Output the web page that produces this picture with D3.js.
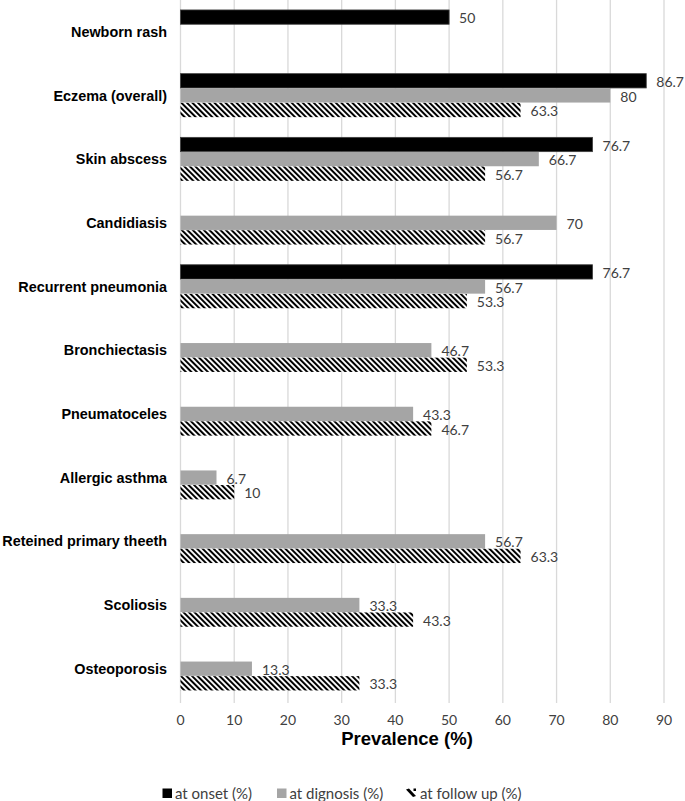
<!DOCTYPE html>
<html><head><meta charset="utf-8">
<script src="https://cdn.jsdelivr.net/npm/d3@7"></script>
<style>body{margin:0;background:#fff}svg{display:block}</style>
</head><body>
<svg id="c" width="685" height="801"></svg>
<script>
const categories = ["Newborn rash","Eczema (overall)","Skin abscess","Candidiasis","Recurrent pneumonia","Bronchiectasis","Pneumatoceles","Allergic asthma","Reteined primary theeth","Scoliosis","Osteoporosis"];
const seriesNames = ["at onset (%)","at dignosis (%)","at follow up (%)"];
const onset    = [50, 86.7, 76.7, null, 76.7, null, null, null, null, null, null];
const diagnosis= [null, 80, 66.7, 70, 56.7, 46.7, 43.3, 6.7, 56.7, 33.3, 13.3];
const followUp = [null, 63.3, 56.7, 56.7, 53.3, 53.3, 46.7, 10, 63.3, 43.3, 33.3];
const xTicks = [0,10,20,30,40,50,60,70,80,90];
const seriesValues = [onset, diagnosis, followUp];

const svg = d3.select("#c");
const defs = svg.append("defs");
const pat = defs.append("pattern").attr("id","hatch").attr("patternUnits","userSpaceOnUse")
  .attr("width",3.9).attr("height",3.9).attr("patternTransform","rotate(-45)");
pat.append("rect").attr("width",3.9).attr("height",3.9).attr("fill","#fff");
pat.append("rect").attr("width",2.0).attr("height",3.9).attr("fill","#000");

const x = d3.scaleLinear().domain([0,90]).range([180.5,664]);
const y = d3.scaleBand().domain(categories).range([0,700.7]).paddingInner(0.3125).paddingOuter(0.15625);
const ys = d3.scaleBand().domain(seriesNames).range([0,y.bandwidth()]);
const fills = ["#000000","#a5a5a5","url(#hatch)"];

// gridlines
svg.append("g").selectAll("line").data(xTicks).join("line")
  .attr("x1",d=>x(d)).attr("x2",d=>x(d)).attr("y1",0).attr("y2",703)
  .attr("stroke","#d9d9d9").attr("stroke-width",1.3);

// tick labels
svg.append("g").selectAll("text").data(xTicks).join("text")
  .attr("x",d=>x(d)).attr("y",719).attr("text-anchor","middle").attr("dominant-baseline","central")
  .attr("font-family","Lato, sans-serif").attr("font-size",14).attr("fill","#404040").text(d=>d);

// axis title
svg.append("text").attr("x",407).attr("y",745).attr("text-anchor","middle")
  .attr("font-family","Liberation Sans, Arial, sans-serif").attr("font-weight","bold").attr("font-size",18.5)
  .attr("fill","#000").text("Prevalence (%)");

// category labels
svg.append("g").selectAll("text").data(categories).join("text")
  .attr("x",167).attr("y",d=>y(d)+y.bandwidth()/2).attr("text-anchor","end").attr("dominant-baseline","central")
  .attr("font-family","Liberation Sans, Arial, sans-serif").attr("font-weight","bold").attr("font-size",14.4)
  .attr("fill","#000").text(d=>d);

// bars
seriesNames.forEach((s,si)=>{
  const data = categories.map((c,i)=>({c, v: seriesValues[si][i]})).filter(d=>d.v!=null);
  const g = svg.append("g");
  g.selectAll("rect").data(data).join("rect")
    .attr("x",x(0)).attr("y",d=>y(d.c)+ys(s)).attr("width",d=>x(d.v)-x(0)).attr("height",ys.bandwidth()-0.3)
    .attr("fill",fills[si])
    .attr("stroke", si===0 ? "#404040" : "none").attr("stroke-width",0.8);
  g.selectAll("text").data(data).join("text")
    .attr("x",d=>x(d.v)+10).attr("y",d=>y(d.c)+ys(s)+ys.bandwidth()/2+0.5).attr("dominant-baseline","central")
    .attr("font-family","Lato, sans-serif").attr("font-size",14).attr("fill","#404040").text(d=>d.v);
});

// legend
const legendX = [162.5, 277, 406];
const lg = svg.append("g");
seriesNames.forEach((s,i)=>{
  if(i<2){
    lg.append("rect").attr("x",legendX[i]).attr("y",788.5).attr("width",9.5).attr("height",9.5).attr("fill",fills[i]);
  } else {
    const lx = legendX[i];
    lg.append("path").attr("d",`M${lx},789.5 L${lx+3},788.5 L${lx+10},796 L${lx+7},797 Z`).attr("fill","#000");
    lg.append("rect").attr("x",lx+7.5).attr("y",788.5).attr("width",2.5).attr("height",2.5).attr("fill","#000");
  }
  lg.append("text").attr("x",legendX[i]+(i<2?12.5:14)).attr("y",793.3).attr("dominant-baseline","central")
    .attr("font-family","Lato, sans-serif").attr("font-size",15).attr("fill","#404040").text(s);
});
</script>
</body></html>
